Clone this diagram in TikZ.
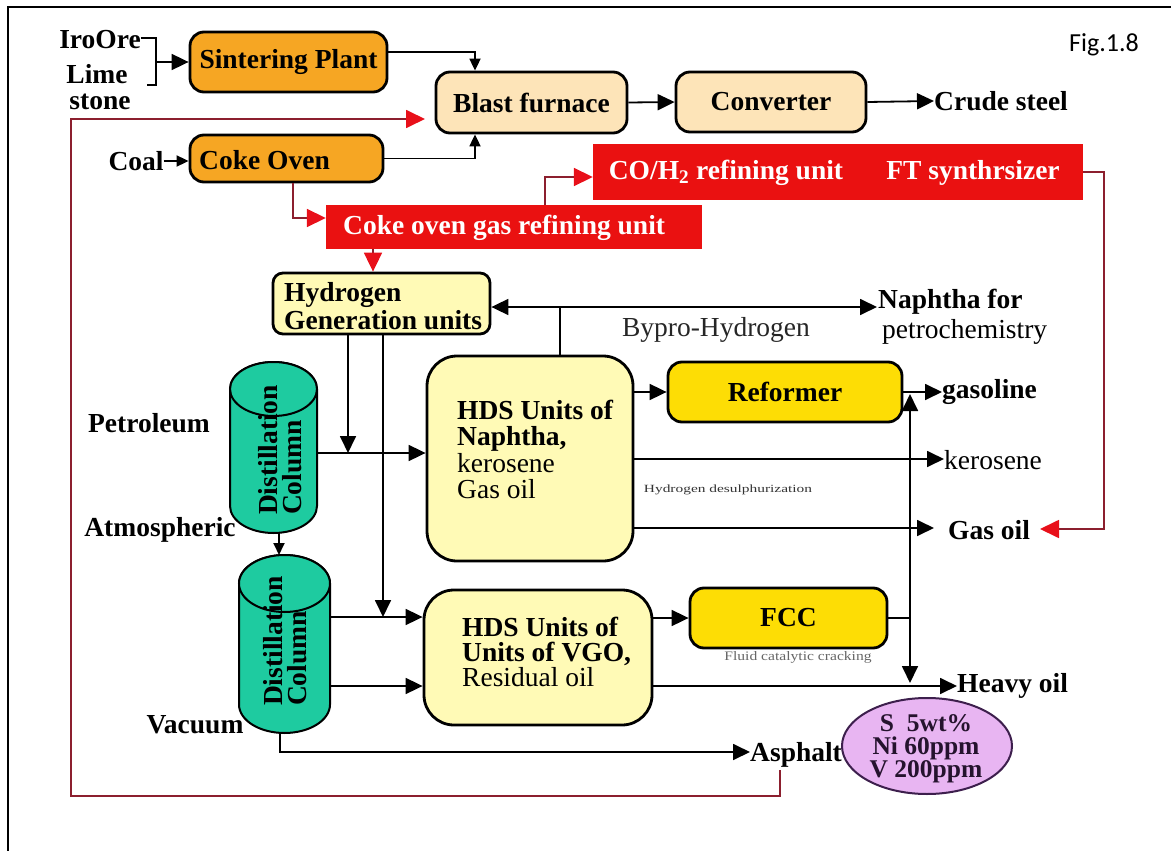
\documentclass[tikz,border=0pt]{standalone}
\usepackage{fontspec}
\setmainfont{Liberation Serif}
\newfontfamily\figfont{Carlito}
\usetikzlibrary{arrows.meta,calc,shapes.geometric}
\definecolor{orangebox}{HTML}{F6A623}
\definecolor{beige}{HTML}{FDE4B8}
\definecolor{redbox}{HTML}{EA1111}
\definecolor{lyellow}{HTML}{FFFAB6}
\definecolor{gold}{HTML}{FDDD05}
\definecolor{teal2}{HTML}{1ECBA0}
\definecolor{pinkel}{HTML}{E8B5F2}
\definecolor{purpline}{HTML}{3D1F4D}
\definecolor{linered}{HTML}{8C1F2E}
\definecolor{arrred}{HTML}{E8101A}
\newcommand\fsz{\fontsize{27.5}{27}\selectfont}
\tikzset{
  box/.style={draw=black, line width=2.8pt, rounded corners=14pt, inner sep=0pt},
  lab/.style={font=\fsz\bfseries, inner sep=0pt},
  reg/.style={font=\fsz, inner sep=0pt},
  conn/.style={line width=1.8pt, draw=black},
  arr/.style={conn, -{Triangle[length=17pt,width=16pt]}},
  sarr/.style={conn, -{Triangle[length=12pt,width=11pt]}},
  rconn/.style={line width=1.8pt, draw=linered},
  rarr/.style={rconn, -{Triangle[length=19pt,width=18pt,color=arrred]}},
  cylst/.style={fill=teal2, draw=black, line width=2pt},
  redtxt/.style={font=\fsz\bfseries, text=white, inner sep=0pt}
}
\begin{document}
\begin{tikzpicture}[x=1pt,y=-1pt]
\useasboundingbox (0,0) rectangle (1171,851);
% frame
\draw[line width=1.6pt] (8,851) -- (8,7) -- (1171,7);
\node[font=\figfont\fontsize{26}{26}\selectfont, inner sep=0pt] (fig) at (1104,45) {Fig.1.8};

% steel part
\node[lab] (iro) at (100,40) {IroOre};
\node[lab] (lime) at (97,74) {Lime};
\node[lab] (stone) at (100,102) {stone};
\node[lab] (coal) at (136,161) {Coal};
\node[box, fill=orangebox, minimum width=197, minimum height=60, lab] (sint) at (288.5,62) {Sintering Plant};
\node[box, fill=orangebox, minimum width=193, minimum height=47] (coke) at (286.5,158.5) {};
\node[lab, anchor=west] (coket) at (199,160) {Coke Oven};
\node[box, fill=beige, minimum width=191, minimum height=61, lab] (blast) at (531.5,102.5) {Blast furnace};
\node[box, fill=beige, minimum width=190, minimum height=60, lab] (conv) at (771,102) {Converter};
\node[lab, anchor=west] (crude) at (934,101) {Crude steel};

\coordinate (br) at (156,62);
\draw[conn, line width=1.4pt] (iro.east |- 0,38) -- (156,38) -- (156,85) -- (147,85);
\draw[arr] (br) -- (sint.west);
\draw[sarr] (coal.east) -- (coal.east -| coke.west);
\draw[sarr] (sint.east |- 0,52) -| (blast.north -| 475,0);
\draw[sarr] (coke.east) -| (blast.south -| 475,0);
\draw[arr] (blast.east) -- (conv.west);
\draw[arr] (conv.east) -- (crude.west);

% red units
\node[fill=redbox, minimum width=490, minimum height=56, inner sep=0pt] (co) at (838,172) {};
\node[redtxt] (co1) at (726,173) {CO/H\textsubscript{2} refining unit};
\node[redtxt] (ft) at (973,173) {FT synthrsizer};
\node[fill=redbox, minimum width=376, minimum height=44, inner sep=0pt] (cog) at (514,227) {};
\node[redtxt, anchor=west] (cogt) at (343,228) {Coke oven gas refining unit};

% hydrogen
\node[box, rounded corners=10pt, fill=lyellow, minimum width=217, minimum height=61] (hyd) at (381.5,303.5) {};
\node[anchor=west, align=left, inner sep=0pt, font=\fontsize{27.5}{28}\selectfont\bfseries] (hydt) at (284,306) {Hydrogen\\Generation units};
\node[lab, anchor=west] (naph) at (878,302) {Naphtha for};
\node[reg, anchor=west] (petro) at (882,332) {petrochemistry};
\node[reg, text=black!85] (bypro) at (716,330) {Bypro-Hydrogen};
\coordinate (nt) at (877,307);

% HDS boxes
\node[box, rounded corners=30pt, fill=lyellow, minimum width=206, minimum height=205] (hds1) at (530,458.5) {};
\node[anchor=west, align=left, inner sep=0pt, font=\fontsize{27.5}{26.5}\selectfont] (hds1t) at (457,449.5) {\textbf{HDS Units of}\\\textbf{Naphtha,}\\kerosene\\Gas oil};
\node[box, rounded corners=30pt, fill=lyellow, minimum width=228, minimum height=135] (hds2) at (538,657.5) {};
\node[anchor=west, align=left, inner sep=0pt, font=\fontsize{27.5}{25}\selectfont] (hds2t) at (462,652) {\textbf{HDS Units of}\\\textbf{Units of VGO,}\\Residual oil};

\node[box, fill=gold, minimum width=234, minimum height=60, lab] (ref) at (785,392) {Reformer};
\node[box, fill=gold, minimum width=197, minimum height=60, lab] (fcc) at (788.5,618) {FCC};

\node[lab, anchor=west] (gasol) at (942,392) {gasoline};
\node[reg, anchor=west] (kero) at (944,460) {kerosene};
\node[lab, anchor=west] (gasoil) at (948,530) {Gas oil};
\node[lab, anchor=west] (heavy) at (957,686) {Heavy oil};
\node[lab, anchor=west] (asph) at (750,755) {Asphalt};
\node[inner sep=0pt, font=\fontsize{11}{11}\selectfont, text=black!80] (hdsx) at (728,490) {\scalebox{1.4}[1]{Hydrogen desulphurization}};
\node[inner sep=0pt, font=\fontsize{13}{13}\selectfont, text=black!60] (fluid) at (798,657) {\scalebox{1.2}[1]{Fluid catalytic cracking}};

\node[ellipse, fill=pinkel, draw=purpline, line width=2pt, minimum width=170, minimum height=96, inner sep=0pt] (ell) at (927,746) {};
\node[align=center, inner sep=0pt, font=\fontsize{25.5}{23}\selectfont\bfseries, text=purpline!60!black] (ellt) at (926,749) {S\ \ 5wt\%\\Ni 60ppm\\V 200ppm};

% labels left
\node[lab] (petrol) at (149,423) {Petroleum};
\node[lab] (atm) at (160,530) {Atmospheric};
\node[lab] (vac) at (195,725) {Vacuum};

% cylinders
\filldraw[cylst] (230,389) -- (230,506) arc[start angle=180,end angle=0,x radius=43.5,y radius=27] -- (317,389) arc[start angle=0,end angle=-180,x radius=43.5,y radius=27] -- cycle;
\filldraw[cylst] (273.5,389) ellipse[x radius=43.5,y radius=27];
\node[rotate=90, align=left, inner sep=0pt, font=\fontsize{27.5}{24}\selectfont\bfseries] (col1) at (280,450) {Distillation\\Column};
\filldraw[cylst] (239,583.5) -- (239,704.5) arc[start angle=180,end angle=0,x radius=45.5,y radius=28.5] -- (330,583.5) arc[start angle=0,end angle=-180,x radius=45.5,y radius=28.5] -- cycle;
\filldraw[cylst] (284.5,583.5) ellipse[x radius=45.5,y radius=28.5];
\node[rotate=90, align=left, inner sep=0pt, font=\fontsize{27.5}{24}\selectfont\bfseries] (col2) at (285,641) {Distillation\\Column};
\coordinate (c1r) at (317,453);
\coordinate (c1b) at (279,533);
\coordinate (c2t) at (279,555);
\coordinate (c2r1) at (330,617);
\coordinate (c2r2) at (330,686);
\coordinate (c2b) at (280,733);

% red connectors
\coordinate (bfin) at (425,119);
\coordinate (asb) at (780,770);
\coordinate (goin) at (1040,529);
\draw[rarr] (asb) -- (780,796) -- (71,796) -- (71,119) -- (bfin);
\draw[rarr] (coke.south -| 293,0) |- (cog.west |- 0,218);
\draw[rarr] (cog.north -| 545,0) |- (co.west |- 0,177);
\draw[rarr] (cog.south -| 373,0) -- (hyd.north -| 373,0);
\draw[rarr] (co.east) -- (1104,172) -- (1104,529) -- (goin);

% black connectors
\draw[conn, {Triangle[length=17pt,width=16pt]}-{Triangle[length=17pt,width=16pt]}] (hyd.east |- 0,307) -- (nt);
\draw[conn] (hds1.north -| 560,0) -- (560,307);
\draw[arr] (hyd.south -| 348,0) -- (348,453);
\draw[arr] (c1r) -- (hds1.west |- c1r);
\draw[arr] (hyd.south -| 383,0) -- (383,617);
\draw[arr] (c2r1) -- (hds2.west |- c2r1);
\draw[arr] (c2r2) -- (hds2.west |- c2r2);
\draw[sarr] (c1b) -- (c2t);
\draw[arr] (c2b) |- (asph.west |- 0,752);
\draw[arr] (hds1.east |- ref.west) -- (ref.west);
\draw[arr] (ref.east) -- (gasol.west);
\draw[arr] (hds1.east |- 0,459) -- (kero.west |- 0,459);
\draw[arr] (hds1.east |- 0,528) -- (934,528);
\draw[arr] (hds2.east |- fcc.west) -- (fcc.west);
\coordinate (jn) at (910,618);
\draw[conn] (fcc.east) -- (jn);
\draw[arr] (jn) -- (910,394);
\draw[arr] (jn) -- (910,683);
\draw[arr] (hds2.east |- c2r2) -- (heavy.west |- c2r2);
\end{tikzpicture}
\end{document}
